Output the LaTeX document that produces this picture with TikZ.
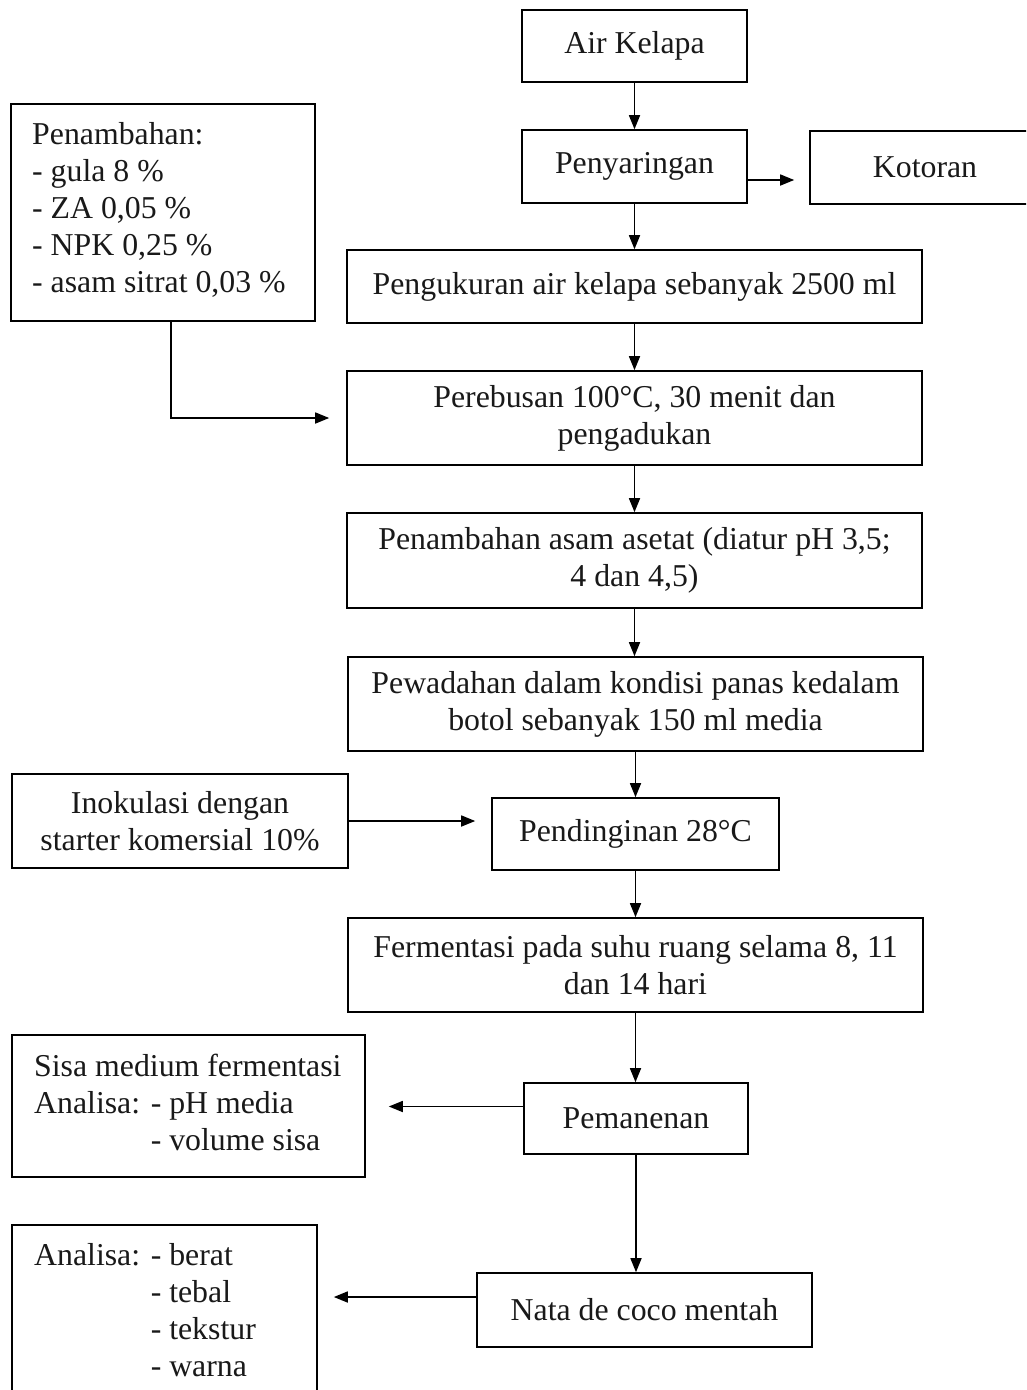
\documentclass[tikz,border=0pt]{standalone}
\usepackage{fontspec}
\setmainfont{Liberation Serif}
\usetikzlibrary{arrows.meta}
\begin{document}
\begin{tikzpicture}[x=1pt,y=-1pt,
  box/.style={draw, line width=1.6pt, inner sep=0pt, align=center,
    font=\fontsize{31.8}{37}\selectfont, text=black!90},
  ltext/.style={inner sep=0pt, align=left, anchor=west,
    font=\fontsize{31.8}{37}\selectfont, text=black!90},
  arr/.style={line width=1.6pt, -{Triangle[length=14pt,width=11pt]}}]
\clip (0,0) rectangle (1026,1390);
\fill[white] (0,0) rectangle (1026,1390);
% main column
\node[box, minimum width=225, minimum height=72] (air) at (634.5,46) {Air Kelapa};
\node[box, minimum width=225, minimum height=73] (peny) at (634.5,166.5) {Penyaringan};
\node[box, minimum width=230, minimum height=73] (kot) at (925,167.5) {Kotoran};
\node[box, minimum width=575, minimum height=73] (peng) at (634.5,286.5) {Pengukuran air kelapa sebanyak 2500 ml};
\node[box, minimum width=575, minimum height=94] (pereb) at (634.5,418) {Perebusan 100°C, 30 menit dan\\pengadukan};
\node[box, minimum width=575, minimum height=95] (aset) at (634.5,560.5) {Penambahan asam asetat (diatur pH 3,5;\\4 dan 4,5)};
\node[box, minimum width=575, minimum height=94] (pew) at (635.5,704) {Pewadahan dalam kondisi panas kedalam\\botol sebanyak 150 ml media};
\node[box, minimum width=287, minimum height=72] (pend) at (635.5,834) {Pendinginan 28°C};
\node[box, minimum width=575, minimum height=94] (ferm) at (635.5,965) {Fermentasi pada suhu ruang selama 8, 11\\dan 14 hari};
\node[box, minimum width=224, minimum height=71] (pem) at (636,1118.5) {Pemanenan};
\node[box, minimum width=335, minimum height=74] (nata) at (644.5,1310) {Nata de coco mentah};
% side boxes
\node[box, minimum width=304, minimum height=217] (pen) at (163,212.5) {};
\node[ltext] (pentxt) at (32,210)
  {Penambahan:\\- gula 8 \%\\- ZA 0,05 \%\\- NPK 0,25 \%\\- asam sitrat 0,03 \%};
\node[box, minimum width=336, minimum height=94] (inok) at (180,821) {Inokulasi dengan\\starter komersial 10\%};
\node[box, minimum width=353, minimum height=142] (sisa) at (188.5,1106) {};
\node[ltext] (sisatxt) at (34,1102)
  {Sisa medium fermentasi\\Analisa: - pH media\\\hphantom{Analisa: }- volume sisa};
\node[box, minimum width=305, minimum height=175] (ana) at (164.5,1312.5) {};
\node[ltext] (anatxt) at (34,1310.5)
  {Analisa: - berat\\\hphantom{Analisa: }- tebal\\\hphantom{Analisa: }- tekstur\\\hphantom{Analisa: }- warna};
% vertical arrows
\draw[arr] (air.south) -- (air.south |- peny.north);
\draw[arr] (peny.south) -- (peny.south |- peng.north);
\draw[arr] (peng.south) -- (peng.south |- pereb.north);
\draw[arr] (pereb.south) -- (pereb.south |- aset.north);
\draw[arr] (aset.south) -- (aset.south |- pew.north);
\draw[arr] (pew.south) -- (pew.south |- pend.north);
\draw[arr] (pend.south) -- (pend.south |- ferm.north);
\draw[arr] (ferm.south) -- (ferm.south |- pem.north);
\draw[arr] (pem.south) -- (pem.south |- nata.north);
% side arrows
\draw[arr, shorten >=15pt] ([yshift=-13.5pt]peny.east) -- ([yshift=-13.5pt]peny.east -| kot.west);
\draw[arr, shorten >=17pt] ([xshift=8pt]pen.south) |- (pereb.west);
\draw[arr, shorten >=16pt] (inok.east) -- (inok.east -| pend.west);
\draw[arr, shorten >=23pt] ([yshift=12pt]pem.west) -- ([yshift=12pt]pem.west -| sisa.east);
\draw[arr, shorten >=16pt] ([yshift=13pt]nata.west) -- ([yshift=13pt]nata.west -| ana.east);
\end{tikzpicture}
\end{document}
